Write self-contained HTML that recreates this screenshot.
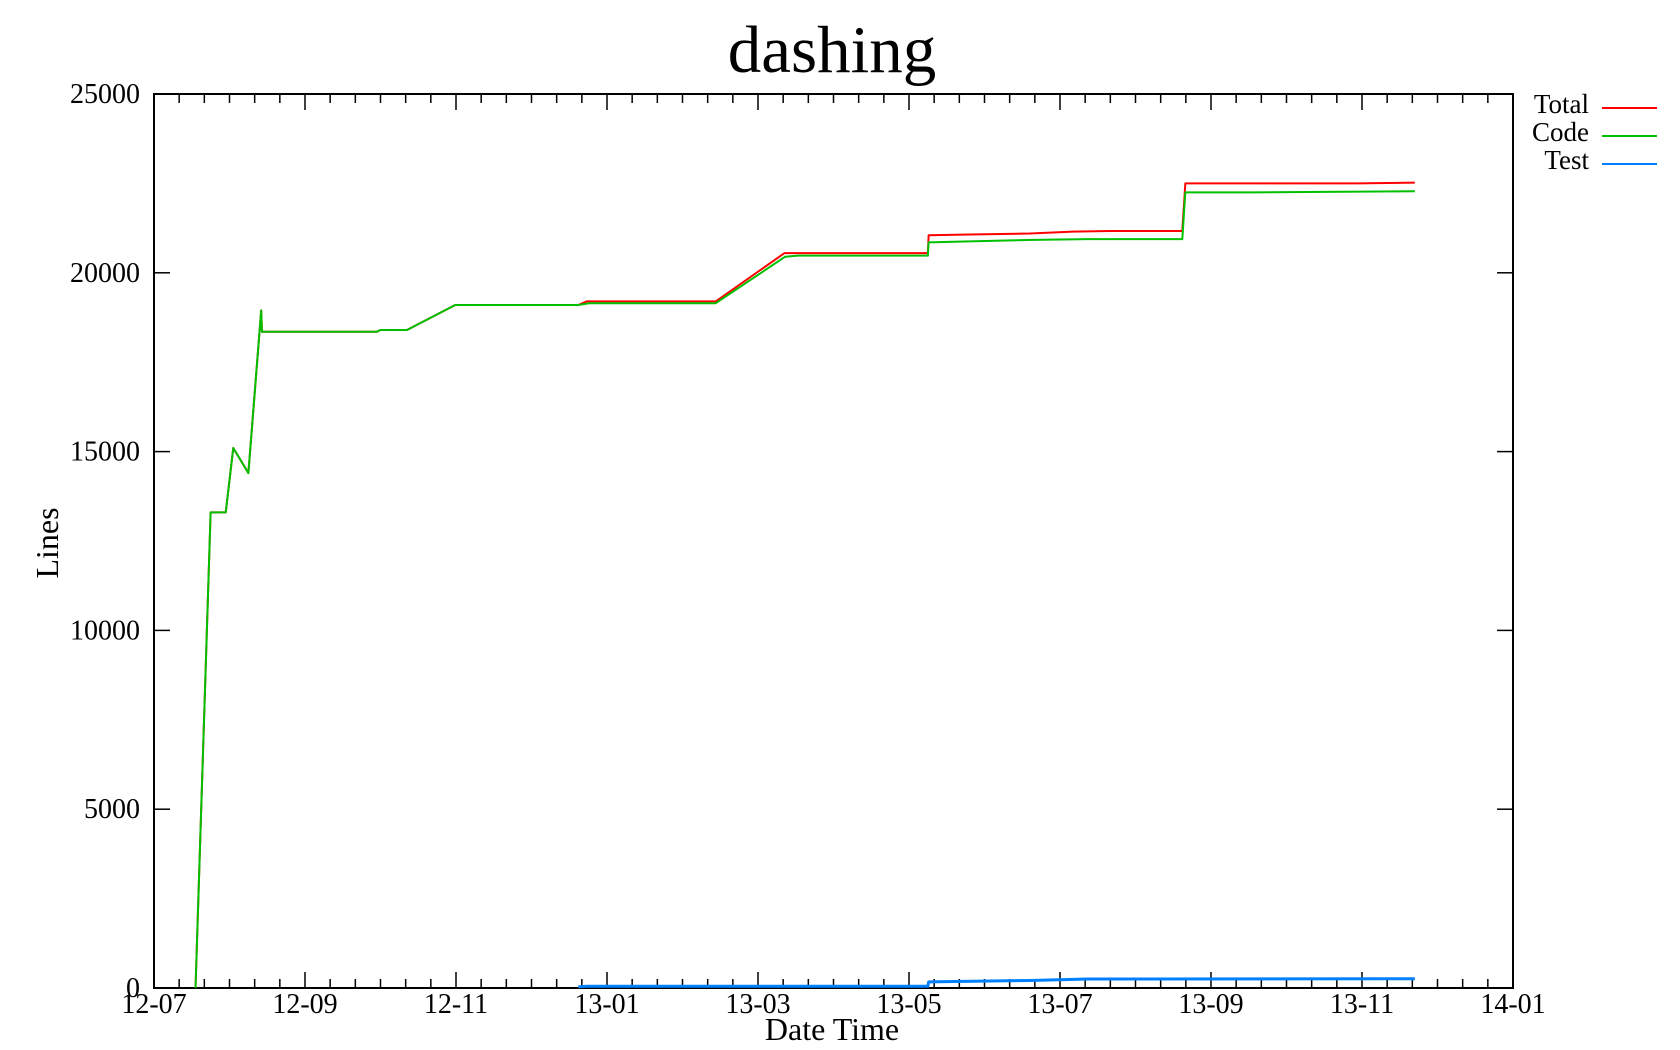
<!DOCTYPE html>
<html><head><meta charset="utf-8"><style>
html,body{margin:0;padding:0;background:#fff}
svg{display:block;font-family:"Liberation Serif",serif}
</style></head><body>
<svg id="chart" width="1680" height="1050" viewBox="0 0 1680 1050" xmlns="http://www.w3.org/2000/svg">
<text x="832" y="72" font-size="67" text-anchor="middle">dashing</text>
<text transform="translate(58,543) rotate(-90)" font-size="32" text-anchor="middle">Lines</text>
<text x="832" y="1040" font-size="32" text-anchor="middle">Date Time</text>
<g id="axes"></g>
<g id="series"></g>
<g>
<text x="1589" y="113" font-size="27" text-anchor="end">Total</text>
<line x1="1602" y1="108" x2="1657" y2="108" stroke="#ff0000" stroke-width="2"/>
<text x="1589" y="141" font-size="27" text-anchor="end">Code</text>
<line x1="1602" y1="136" x2="1657" y2="136" stroke="#00c000" stroke-width="2"/>
<text x="1589" y="169" font-size="27" text-anchor="end">Test</text>
<line x1="1602" y1="164" x2="1657" y2="164" stroke="#0080ff" stroke-width="2"/>
</g>
</svg>
<script>
// months since 2012-07-01
const xTickLabels = ["12-07","12-09","12-11","13-01","13-03","13-05","13-07","13-09","13-11","14-01"];
const yTicks = [0,5000,10000,15000,20000,25000];
const codeX = [0.55,0.75,0.95,1.05,1.25,1.42,1.43,2.95,3.0,3.35,3.99,5.62,5.77,7.44,8.36,8.53,10.25,10.26,10.8,11.65,12.37,13.62,13.66,14.57,16.7];
const codeY = [0,13300,13300,15100,14400,18950,18350,18350,18400,18400,19100,19100,19150,19150,20450,20480,20480,20850,20880,20920,20940,20940,22250,22250,22280];
const totalX = [0.55,0.75,0.95,1.05,1.25,1.42,1.43,2.95,3.0,3.35,3.99,5.62,5.73,7.44,8.35,10.25,10.26,10.8,11.6,12.17,12.66,13.62,13.66,15.95,16.7];
const totalY = [0,13300,13300,15100,14400,18950,18350,18350,18400,18400,19100,19100,19200,19200,20550,20550,21050,21070,21100,21150,21170,21170,22500,22500,22520];
const testX = [5.62,5.73,10.25,10.26,11.6,12.37,16.7];
const testY = [30,50,50,170,210,250,260];

const L=154,R=1513,T=94,B=988,XMAX=18,YMAX=25000;
const xs=m=>L+m*(R-L)/XMAX, ys=v=>B-v*(B-T)/YMAX;
const NS="http://www.w3.org/2000/svg";
const axes=document.getElementById('axes'), ser=document.getElementById('series');
function mk(tag,attrs,parent){const e=document.createElementNS(NS,tag);for(const k in attrs)e.setAttribute(k,attrs[k]);parent.appendChild(e);return e;}
const frame=mk('rect',{x:L,y:T,width:R-L,height:B-T,fill:'none',stroke:'#000','stroke-width':2},axes);


for(let i=0;i<=54;i++){
  const m=i/3, x=xs(m), major=i%6===0, len=major?16:9;
  const t1=mk('line',{x1:x,y1:B,x2:x,y2:B-len,stroke:'#000','stroke-width':1.5},axes);
  
  
  const t2=mk('line',{x1:x,y1:T,x2:x,y2:T+len,stroke:'#000','stroke-width':1.5},axes);
  
  
}
xTickLabels.forEach((lab,i)=>{
  const t=mk('text',{x:xs(i*2),y:1013,'font-size':28,'text-anchor':'middle'},axes);t.textContent=lab;
  
  
});
yTicks.forEach(v=>{
  const y=ys(v);
  const a=mk('line',{x1:L,y1:y,x2:L+16,y2:y,stroke:'#000','stroke-width':1.5},axes);
  
  
  const b=mk('line',{x1:R,y1:y,x2:R-16,y2:y,stroke:'#000','stroke-width':1.5},axes);
  
  
  const t=mk('text',{x:140,y:y+9,'font-size':28,'text-anchor':'end'},axes);t.textContent=v;
  
  
});
function line(X,Y,color,w,name){
  const p=mk('polyline',{points:X.map((m,i)=>xs(m)+','+ys(Y[i])).join(' '),fill:'none',stroke:color,'stroke-width':w,'stroke-linejoin':'round'},ser);
  
  
}
line(totalX,totalY,'#ff0000',2,'total-line');
line(codeX,codeY,'#00c000',2,'code-line');
line(testX,testY,'#0080ff',3,'test-line');
</script>
</body></html>
